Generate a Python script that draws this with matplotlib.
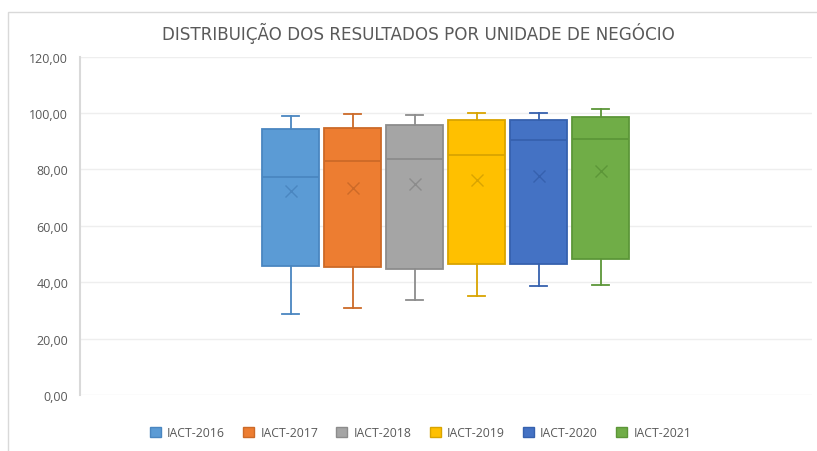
import matplotlib
matplotlib.use("Agg")
import matplotlib.pyplot as plt
from matplotlib.patches import Rectangle, Patch
from matplotlib.ticker import FuncFormatter

series = ["IACT-2016", "IACT-2017", "IACT-2018", "IACT-2019", "IACT-2020", "IACT-2021"]
whisker_low = [28.9, 31.0, 33.7, 35.1, 38.7, 38.9]
q1 = [45.9, 45.3, 44.7, 46.3, 46.5, 48.2]
median = [77.4, 82.9, 83.7, 85.0, 90.3, 90.9]
mean = [72.4, 73.6, 74.9, 76.2, 77.6, 79.5]
q3 = [94.3, 94.7, 95.7, 97.4, 97.4, 98.5]
whisker_high = [99.0, 99.6, 99.3, 100.1, 99.9, 101.3]
yticks = [0, 20, 40, 60, 80, 100, 120]

fill_colors = ["#5B9BD5", "#ED7D31", "#A5A5A5", "#FFC000", "#4472C4", "#70AD47"]
edge_colors = ["#4A86C0", "#CC6A28", "#8C8C8C", "#D9A400", "#3661AE", "#5C9638"]

W, H = 817, 452
fig = plt.figure(figsize=(W / 100, H / 100), dpi=100)
fig.patch.set_facecolor("white")

# chart frame (partially cropped on right/bottom)
fig.add_artist(Rectangle((8 / W, -0.05), 1.2, (1 - 13 / H) + 0.05, transform=fig.transFigure,
                         fill=False, edgecolor="#d9d9d9", linewidth=1.0))

left, right, top, bottom = 80, 812, 57.7, 396
ax = fig.add_axes([left / W, 1 - bottom / H, (right - left) / W, (bottom - top) / H])

stats = []
for i in range(len(series)):
    stats.append(dict(label=series[i], whislo=whisker_low[i], q1=q1[i], med=median[i],
                      mean=mean[i], q3=q3[i], whishi=whisker_high[i], fliers=[]))

positions = list(range(len(series)))
for i, st in enumerate(stats):
    ec = edge_colors[i]
    ax.bxp([st], positions=[positions[i]], widths=0.92, capwidths=0.28, patch_artist=True,
           showmeans=True, meanline=False,
           boxprops=dict(facecolor=fill_colors[i], edgecolor=ec, linewidth=1.3),
           medianprops=dict(color=ec, linewidth=1.3),
           whiskerprops=dict(color=ec, linewidth=1.3),
           capprops=dict(color=ec, linewidth=1.3),
           meanprops=dict(marker="x", markeredgecolor=ec, markersize=8, markeredgewidth=1.0),
           manage_ticks=False, zorder=3)

center_px = 445.75
spacing = 62.0
ax.set_xlim(2.5 - (center_px - left) / spacing, 2.5 + (right - center_px) / spacing)
ax.set_ylim(0, 120)
ax.set_yticks(yticks)
ax.yaxis.set_major_formatter(FuncFormatter(lambda v, p: f"{v:.2f}".replace(".", ",")))
ax.set_xticks([])
ax.grid(axis="y", color="#eeeeee", linewidth=1.0, zorder=0)
ax.set_axisbelow(True)
for s in ["top", "right", "bottom"]:
    ax.spines[s].set_visible(False)
ax.spines["left"].set_color("#d9d9d9")
ax.spines["left"].set_linewidth(1.5)
ax.tick_params(axis="y", length=0, pad=8.5, labelsize=9, labelcolor="#595959")
for lab in ax.get_yticklabels():
    lab.set_fontfamily("Open Sans")

fig.text(418 / W, 1 - 33 / H, "DISTRIBUIÇÃO DOS RESULTADOS POR UNIDADE DE NEGÓCIO",
         ha="center", va="center", fontsize=12.1, color="#595959", family="DejaVu Sans")

handles = [Patch(facecolor=fill_colors[i], edgecolor=edge_colors[i], label=series[i])
           for i in range(len(series))]
fig.legend(handles=handles, loc="center", bbox_to_anchor=(420.5 / W, 1 - 434 / H), ncol=6,
           frameon=False, handlelength=0.9, handleheight=0.9, handletextpad=0.5,
           columnspacing=1.5, prop=dict(family="Open Sans", size=8.8), labelcolor="#595959")

fig.savefig("out.png", dpi=100, facecolor="white")
